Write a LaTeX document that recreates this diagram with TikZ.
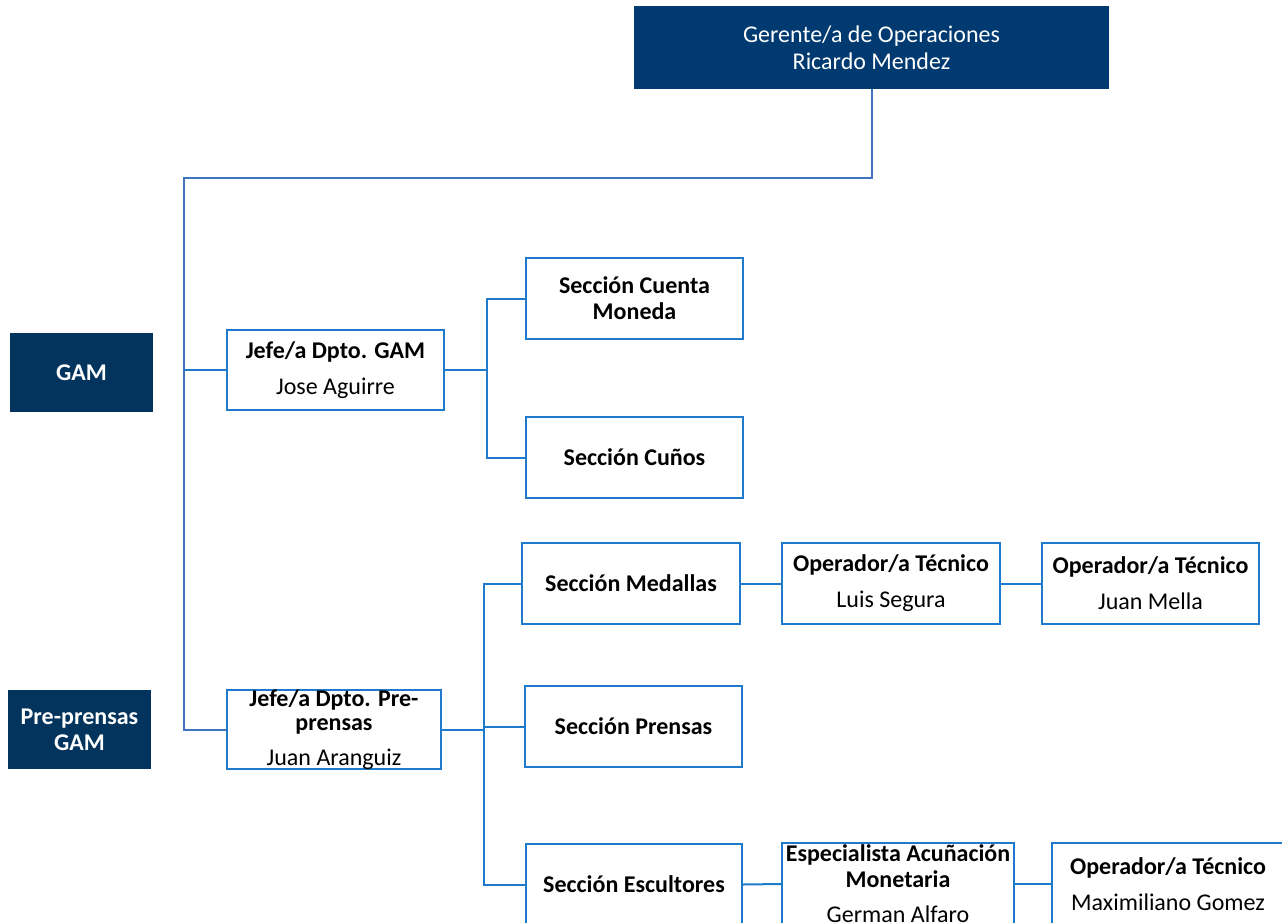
\documentclass[tikz,border=0pt]{standalone}
\usepackage{fontspec}
\setmainfont{Carlito}
\definecolor{navy}{HTML}{003A70}
\definecolor{navyb}{HTML}{03345D}
\definecolor{lblue}{HTML}{1E7BCB}
\definecolor{busblue}{HTML}{3F74BF}
\begin{document}
\begin{tikzpicture}[x=1pt,y=-1pt,
  box/.style={draw=lblue, line width=2pt, fill=white, inner sep=0pt, align=center,
    font=\fontsize{24}{26}\selectfont, text=black},
  dark/.style={fill=#1, draw=none, inner sep=0pt, align=center, text=white,
    font=\fontsize{24}{27}\selectfont},
  conn/.style={draw=lblue, line width=2pt},
  bus/.style={draw=busblue, line width=2pt}]
\clip (0,0) rectangle (1282,923);
\fill[white] (0,0) rectangle (1282,923);

% top manager
\node[dark=navy, minimum width=475pt, minimum height=83pt] (ger) at (871.5,47.5)
  {Gerente/a de Operaciones\\Ricardo Mendez};

% left labels
\node[dark=navyb, minimum width=143pt, minimum height=79pt, font=\fontsize{24}{26}\selectfont\bfseries] (gam) at (81.5,372.5) {GAM};
\node[dark=navyb, minimum width=143pt, minimum height=79pt, font=\fontsize{24}{26}\selectfont\bfseries] (pre) at (79.5,729.5) {Pre-prensas\\GAM};

% department heads
\node[box, minimum width=217pt, minimum height=80pt] (jg) at (335.5,370)
  {\textbf{Jefe/a Dpto. GAM}\\[10pt]Jose Aguirre};
\node[box, minimum width=214pt, minimum height=79pt] (jp) at (334,729.5)
  {\textbf{Jefe/a Dpto. Pre-}\\[-2pt]\textbf{prensas}\\[9pt]Juan Aranguiz};

% GAM sections
\node[box, minimum width=217pt, minimum height=81pt] (scm) at (634.5,298.5)
  {\textbf{Sección Cuenta}\\\textbf{Moneda}};
\node[box, minimum width=217pt, minimum height=81pt] (scu) at (634.5,457.5)
  {\textbf{Sección Cuños}};

% Pre-prensas sections
\node[box, minimum width=218pt, minimum height=81pt] (sme) at (631,583.5)
  {\textbf{Sección Medallas}};
\node[box, minimum width=218pt, minimum height=81pt] (ols) at (891,583.5)
  {\textbf{Operador/a Técnico}\\[10pt]Luis Segura};
\node[box, minimum width=217pt, minimum height=81pt] (ojm) at (1150.5,583.5)
  {\textbf{Operador/a Técnico}\\[10pt]Juan Mella};
\node[box, minimum width=217pt, minimum height=81pt] (spr) at (633.5,726.5)
  {\textbf{Sección Prensas}};
\node[box, minimum width=216pt, minimum height=81pt] (ses) at (634,884.5)
  {\textbf{Sección Escultores}};
\node[box, minimum width=232pt, minimum height=82pt] (esp) at (898,884)
  {\textbf{Especialista Acuñación}\\\textbf{Monetaria}\\[9pt]German Alfaro};
\node[box, minimum width=232pt, minimum height=82pt] (omg) at (1168,884)
  {\textbf{Operador/a Técnico}\\[10pt]Maximiliano Gomez};

% connectors
\coordinate (busTop) at (184,178);
\coordinate (busGam) at (184,370);
\draw[bus] (ger.south) |- (busTop) |- (jp.west);
\draw[conn] (busGam) -- (jg.west);

\draw[conn] (jg.east) -- ++(42,0) coordinate (jgj);
\draw[conn] (jgj) |- (scm.west);
\draw[conn] (jgj) |- (scu.west);

\draw[conn] (jp.east) -- ++(42,0) coordinate (jpj);
\draw[conn] (jpj) |- (sme.west);
\draw[conn] (jpj) |- (spr.west);
\draw[conn] (jpj) |- (ses.west);

\draw[conn] (sme.east) -- (ols.west);
\draw[conn] (ols.east) -- (ojm.west);
\draw[conn] (ses.east) -- (esp.west);
\draw[conn] (esp.east) -- (omg.west);
\end{tikzpicture}
\end{document}
